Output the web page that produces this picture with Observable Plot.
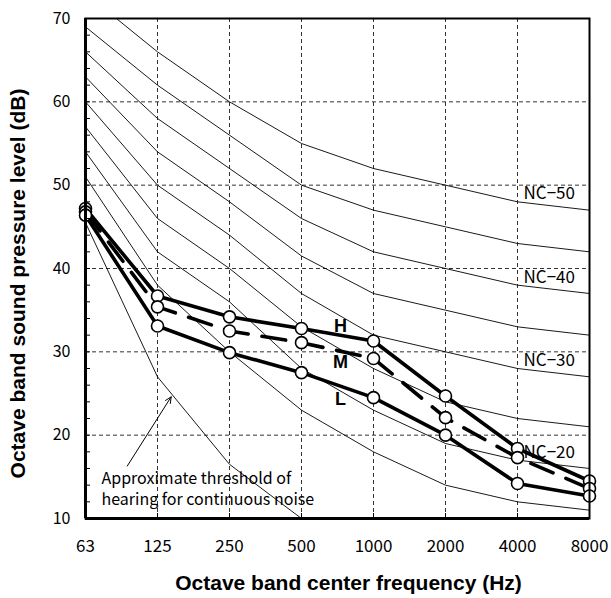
<!DOCTYPE html>
<html>
<head>
<meta charset="utf-8">
<script src="https://cdn.jsdelivr.net/npm/d3@7"></script>
<script src="https://cdn.jsdelivr.net/npm/@observablehq/plot@0.6"></script>
<style>
  body { margin: 0; background: #fff; }
  #chart svg { display: block; }
</style>
</head>
<body>
<div id="chart"></div>
<script>
// Octave band centre frequencies (tick labels)
const freqLabels = ["63", "125", "250", "500", "1000", "2000", "4000", "8000"];

// NC curves, values in dB at each octave band
const ncNames = ["NC-50", "NC-45", "NC-40", "NC-35", "NC-30", "NC-25", "NC-20", "NC-15"];
const nc50 = [73, 66, 60, 55, 52, 50, 48, 47];
const nc45 = [69, 62, 56, 50, 47, 45, 43, 42];
const nc40 = [66, 58, 52, 46, 42, 40, 38, 37];
const nc35 = [63, 54, 48, 41.5, 37, 35, 33, 32];
const nc30 = [60, 50, 44, 37, 32, 30, 28, 27];
const nc25 = [57, 46, 40, 33, 28, 24, 22, 21];
const nc20 = [54, 42, 36, 28, 23, 19, 17, 16];
const nc15 = [51, 38, 30, 23, 18, 14, 12, 11];
const ncValues = [nc50, nc45, nc40, nc35, nc30, nc25, nc20, nc15];
const ncLabelled = ["NC-50", "NC-40", "NC-30", "NC-20"];
const ncLabelText = ["NC\u221250", "NC\u221240", "NC\u221230", "NC\u221220"];

// Approximate threshold of hearing for continuous noise (63 .. 500 Hz)
const thresholdValues = [45.5, 27, 16.5, 10];

// Measured spectra
const seriesNames = ["H", "M", "L"];
const seriesH = [47.2, 36.7, 34.2, 32.8, 31.3, 24.7, 18.4, 14.5];
const seriesM = [46.8, 35.4, 32.5, 31.1, 29.2, 22.1, 17.3, 13.6];
const seriesL = [46.4, 33.1, 29.9, 27.5, 24.5, 20.0, 14.2, 12.7];

// Y axis ticks
const yMajorTicks = [10, 20, 30, 40, 50, 60, 70];
const yMinorTicks = d3.range(10, 71, 2);

// Texts
const yTitle = "Octave band sound pressure level (dB)";
const xTitle = "Octave band center frequency (Hz)";
const noteText = "Approximate threshold of\nhearing for continuous noise";
// arrow from the note to the threshold curve (x in octave-band index units, y in dB)
const noteArrow = [{x1: 0.58, y1: 16.3, x2: 1.19, y2: 24.6}];

// ---- tables built from the arrays ----
const idx = freqLabels.map((_, i) => i);
const ncRows = ncNames.flatMap((name, k) => ncValues[k].map((v, i) => ({name, i, v})));
const ncLabelRows = ncLabelled.map((name, k) => {
  const vals = ncValues[ncNames.indexOf(name)];
  return {text: ncLabelText[k], i: 6, v: vals[6]};
});
const thrRows = thresholdValues.map((v, i) => ({i, v}));
const seriesVals = {H: seriesH, M: seriesM, L: seriesL};
const sRows = seriesNames.flatMap(name => seriesVals[name].map((v, i) => ({name, i, v})));
const sLabel = name => [{name, i: 3, v: seriesVals[name][3]}];

const jp = "'Noto Sans CJK JP', 'Noto Sans', sans-serif";
const bold = "'Liberation Sans', Arial, sans-serif";
const gridStyle = {stroke: "#333", strokeOpacity: 1, strokeWidth: 1, strokeDasharray: "4,3"};
const sLabelStyle = {x: "i", y: "v", text: "name", fontSize: 18, fontWeight: "bold", fontFamily: bold};

const chart = Plot.plot({
  width: 611,
  height: 598,
  marginLeft: 85,
  marginRight: 22,
  marginTop: 18,
  marginBottom: 80,
  style: {fontFamily: jp, fontSize: "16px", background: "#fff", color: "#000"},
  x: {type: "linear", domain: [0, 7]},
  y: {domain: [10, 70]},
  marks: [
    Plot.gridY([20, 30, 40, 50, 60], gridStyle),
    Plot.gridX(idx.slice(1, 7), gridStyle),
    Plot.line(ncRows, {x: "i", y: "v", z: "name", stroke: "#000", strokeWidth: 0.9, clip: true}),
    Plot.line(thrRows, {x: "i", y: "v", stroke: "#000", strokeWidth: 0.9, clip: true}),
    Plot.arrow(noteArrow, {x1: "x1", y1: "y1", x2: "x2", y2: "y2", stroke: "#000", strokeWidth: 1, headLength: 10, headAngle: 50}),
    Plot.text([noteText], {frameAnchor: "bottom-left", text: d => d, textAnchor: "start", lineAnchor: "bottom", dx: 16, dy: -14, fontSize: 16, lineHeight: 1.3, fontFamily: jp}),
    Plot.text(ncLabelRows, {x: "i", y: "v", text: "text", textAnchor: "start", dx: 6, dy: -8, fontSize: 17, fontFamily: jp}),
    Plot.line(sRows.filter(d => d.name !== "M"), {x: "i", y: "v", z: "name", stroke: "#000", strokeWidth: 3.6}),
    Plot.line(sRows.filter(d => d.name === "M"), {x: "i", y: "v", stroke: "#000", strokeWidth: 3.6, strokeDasharray: "24,14"}),
    Plot.dot(sRows, {x: "i", y: "v", r: 6, fill: "#fff", stroke: "#000", strokeWidth: 1.6}),
    Plot.text(sLabel("H"), {...sLabelStyle, dx: 39, dy: -2}),
    Plot.text(sLabel("M"), {...sLabelStyle, dx: 39, dy: 20}),
    Plot.text(sLabel("L"), {...sLabelStyle, dx: 39, dy: 27}),
    Plot.frame({stroke: "#000", strokeWidth: 2}),
    Plot.ruleX([0], {stroke: "#000", strokeWidth: 3}),
    Plot.ruleY([10], {stroke: "#000", strokeWidth: 3}),
    // inward minor ticks
    Plot.axisY({ticks: yMinorTicks, tickSize: 5, inset: 5, tickFormat: () => "", label: null}),
    Plot.axisX({ticks: idx, tickSize: 5, inset: 5, tickFormat: () => "", label: null}),
    // tick labels
    Plot.axisY({ticks: yMajorTicks, tickSize: 0, tickPadding: 15, fontSize: 16, label: null}),
    Plot.axisX({ticks: idx, tickSize: 0, tickPadding: 21, tickFormat: i => freqLabels[i], fontSize: 17, label: null}),
    // axis titles
    Plot.text([yTitle], {frameAnchor: "left", text: d => d, textAnchor: "middle", lineAnchor: "middle", rotate: -90, dx: -67, dy: 15, fontSize: 21, fontWeight: "bold", fontFamily: bold}),
    Plot.text([xTitle], {frameAnchor: "bottom", text: d => d, textAnchor: "middle", lineAnchor: "middle", dx: 11, dy: 65, fontSize: 21, fontWeight: "bold", fontFamily: bold})
  ]
});
document.getElementById("chart").appendChild(chart);
</script>
</body>
</html>
